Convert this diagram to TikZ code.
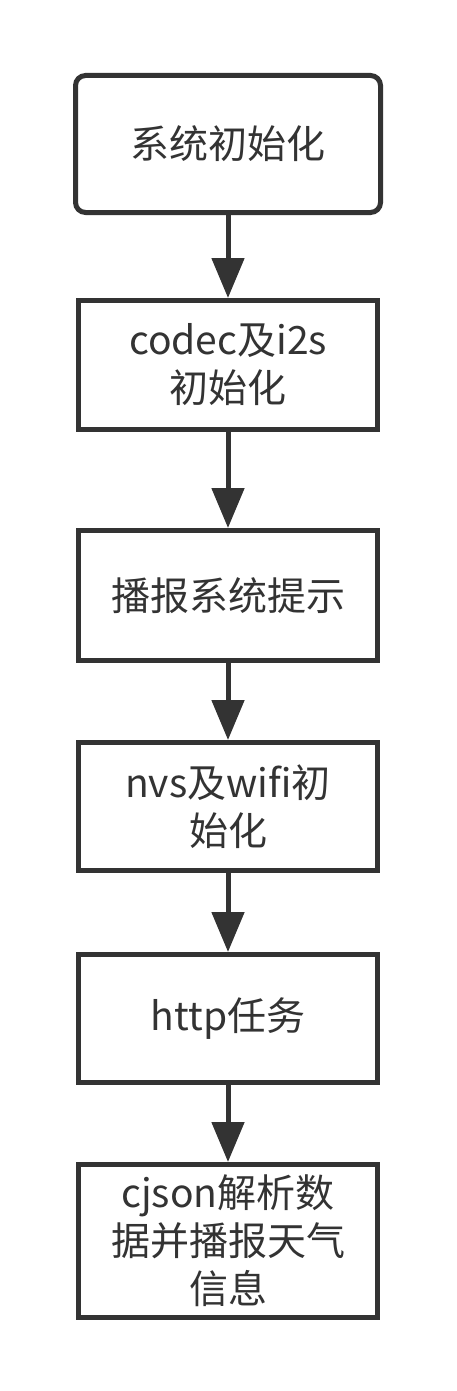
\documentclass[tikz,border=0pt]{standalone}
\usepackage{fontspec}
\setmainfont{Noto Sans CJK SC}
\usetikzlibrary{arrows.meta}
\definecolor{ink}{HTML}{333333}
\begin{document}
\begin{tikzpicture}[x=1pt,y=-1pt,
  stepbox/.style={draw=ink, line width=5pt, fill=white, text=ink, align=center,
    inner sep=0pt, minimum width=299pt,
    font=\fontsize{39pt}{48pt}\selectfont},
  flow/.style={draw=ink, line width=5pt, -{Triangle[length=40pt,width=32pt]}, fill=ink}
]
\useasboundingbox (0,0) rectangle (456,1391);
\fill[white] (0,0) rectangle (456,1391);
\node[stepbox, rounded corners=10pt, minimum width=305pt, minimum height=137pt] (b1) at (228,144) {系统初始化};
\node[stepbox, minimum height=129pt] (b2) at (228,365) {codec及i2s\\初始化};
\node[stepbox, minimum height=130pt] (b3) at (228,595.5) {播报系统提示};
\node[stepbox, minimum height=128pt] (b4) at (228,806.5) {nvs及wifi初\\始化};
\node[stepbox, minimum height=128pt] (b5) at (228,1018.5) {http任务};
\node[stepbox, minimum height=153pt] (b6) at (228,1241) {cjson解析数\\据并播报天气\\信息};
\draw[flow] (b1.south) -- (b2.north);
\draw[flow] (b2.south) -- (b3.north);
\draw[flow] (b3.south) -- (b4.north);
\draw[flow] (b4.south) -- (b5.north);
\draw[flow] (b5.south) -- (b6.north);
\end{tikzpicture}
\end{document}
